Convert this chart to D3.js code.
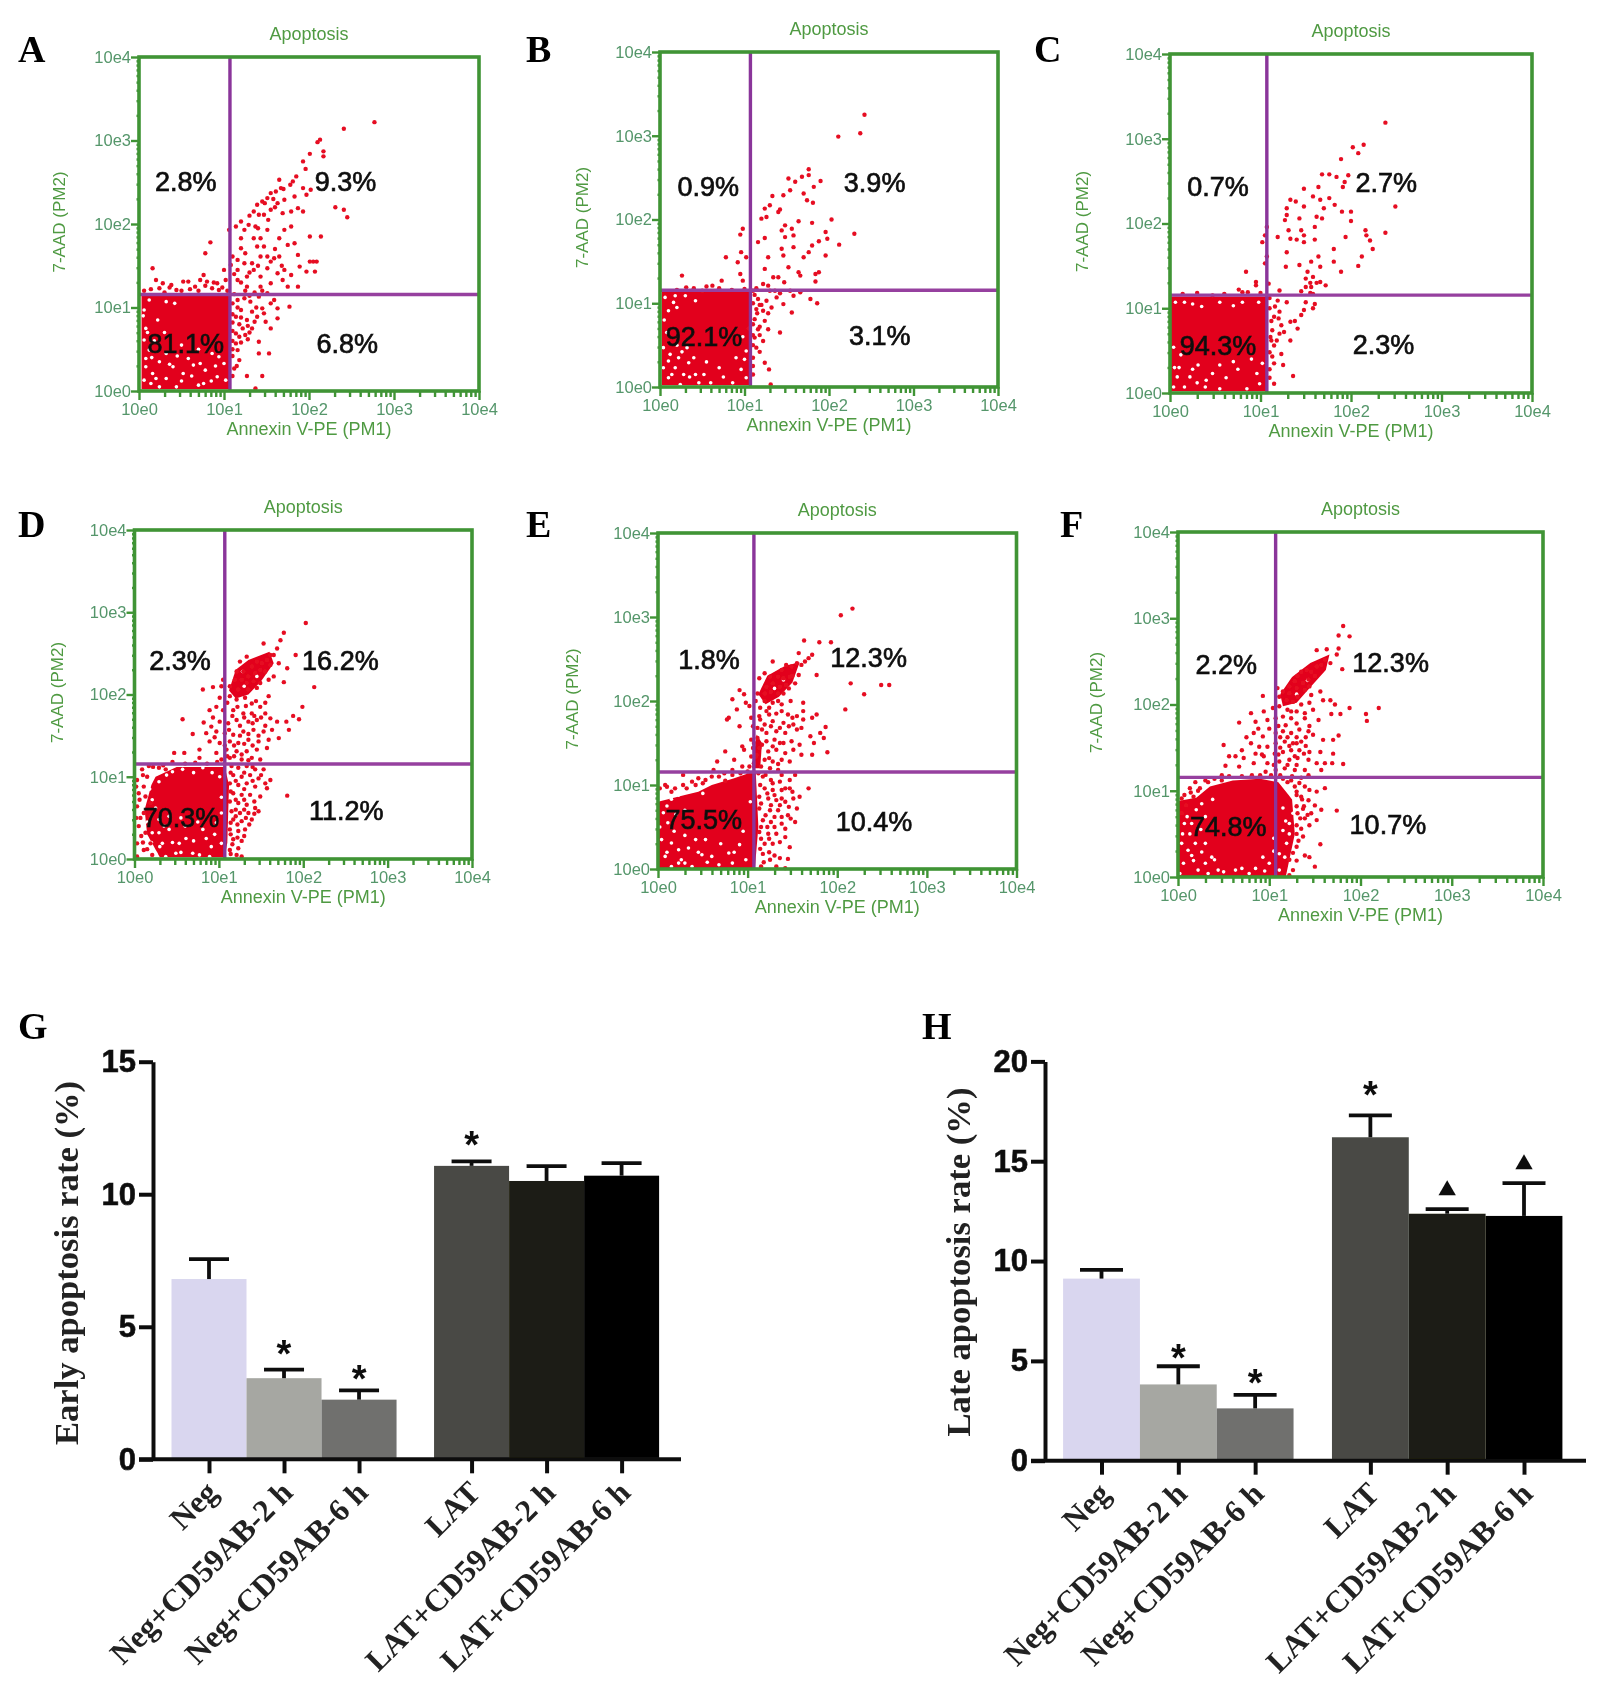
<!DOCTYPE html>
<html>
<head>
<meta charset="utf-8">
<script src="https://cdn.jsdelivr.net/npm/d3@7"></script>
<style>
  body { margin: 0; background: #fff; }
  svg { display: block; }
</style>
</head>
<body>
<div id="chart"></div>
<script>
// flow panels: events are [log10 Annexin V-PE, log10 7-AAD]
const eventsA = [[2.77,3.22],[2.41,3.14],[2.13,3.01],[2.1,2.98],[2.17,2.87],[2.17,2.81],[2.01,2.84],[1.93,2.75],[1.96,2.66],[1.85,2.57],[1.81,2.51],[1.78,2.47],[1.65,2.53],[1.93,2.43],[1.97,2.35],[2.02,2.41],[2.31,2.2],[2.41,2.17],[2.45,2.08],[2.01,1.85],[2.14,1.85],[1.67,2.43],[1.61,2.39],[1.55,2.37],[1.51,2.31],[1.45,2.27],[1.39,2.23],[1.35,2.15],[1.41,2.11],[1.47,2.11],[1.55,2.17],[1.63,2.25],[1.71,2.29],[1.83,2.33],[1.87,2.19],[1.93,2.15],[1.79,2.15],[1.69,2.13],[1.06,1.93],[1.14,1.97],[1.2,2.03],[1.24,1.93],[1.2,1.83],[1.29,1.99],[1.37,1.97],[1.35,1.83],[1.43,1.83],[1.51,1.93],[1.39,1.73],[1.47,1.73],[1.2,1.71],[1.65,1.83],[1.71,1.93],[1.79,1.97],[1.75,1.75],[1.83,1.77],[1.65,1.61],[1.87,1.63],[1.59,1.59],[1.51,1.61],[1.43,1.61],[1.33,1.53],[1.24,1.53],[1.16,1.57],[1.1,1.61],[1.08,1.51],[1.16,1.45],[1.27,1.37],[1.35,1.45],[1.43,1.37],[1.51,1.47],[1.63,1.41],[1.71,1.45],[1.79,1.39],[1.69,1.33],[1.55,1.29],[1.43,1.25],[1.27,1.25],[1.16,1.33],[1.87,1.25],[1.89,1.49],[1.97,1.43],[2.05,1.55],[2.09,1.55],[2.01,1.55],[2.07,1.43],[0.84,1.78],[0.78,1.65],[0.16,1.47],[0.2,1.33],[0.28,1.29],[0.38,1.27],[0.52,1.31],[0.58,1.31],[0.76,1.39],[0.72,1.33],[0.8,1.31],[0.92,1.29],[1,1.45],[1.02,1.33],[0.66,1.25],[0.24,1.23],[0.44,1.21],[0.86,1.23],[0.94,1.21],[1.16,1.09],[1.24,1.11],[1.31,1.07],[1.41,1.13],[1.51,1.17],[1.59,1.09],[1.63,0.99],[1.77,1.01],[1.63,0.87],[1.45,0.99],[1.33,0.95],[1.2,0.97],[1.14,0.89],[1.27,0.85],[1.39,0.89],[1.49,0.83],[1.55,0.75],[1.33,0.75],[1.22,0.75],[1.14,0.69],[1.25,0.67],[1.14,0.57],[1.41,0.59],[1.41,0.45],[1.53,0.45],[1.18,0.37],[1.12,0.27],[1.27,0.18],[1.45,0.18],[1.37,0.03],[1.16,0.49]]
const eventsB = [[2.42,3.25],[2.11,2.99],[2.37,3.03],[1.76,2.6],[1.76,2.53],[1.68,2.51],[1.52,2.49],[1.6,2.45],[1.9,2.46],[1.82,2.39],[1.7,2.31],[1.54,2.35],[1.46,2.29],[1.33,2.28],[1.74,2.23],[1.81,2.2],[1.42,2.12],[1.4,2.09],[1.3,2.17],[1.24,2.13],[1.2,2.01],[1.26,2.03],[0.98,1.89],[0.95,1.82],[1.48,1.93],[1.56,1.89],[1.44,1.87],[1.64,1.98],[1.8,1.96],[2.03,2],[1.96,1.85],[1.98,1.77],[1.48,1.79],[1.58,1.81],[1.24,1.78],[1.16,1.73],[2.3,1.83],[2.12,1.7],[1.88,1.74],[1.8,1.69],[1.76,1.61],[1.7,1.55],[1.96,1.57],[1.58,1.67],[1.44,1.65],[1.46,1.57],[1.28,1.55],[0.78,1.55],[0.96,1.61],[1.02,1.55],[0.92,1.49],[0.95,1.35],[1.24,1.41],[1.52,1.43],[1.64,1.37],[1.66,1.33],[1.88,1.37],[1.84,1.35],[1.84,1.26],[1.34,1.31],[1.4,1.31],[1.47,1.25],[1.22,1.23],[1.28,1.21],[0.26,1.33],[0.73,1.27],[0.98,1.27],[0.62,1.21],[0.31,1.19],[0.5,1.15],[1.1,1.15],[1.36,1.15],[1.54,1.15],[1.66,1.13],[1.16,1.05],[1.26,1.03],[1.38,1.07],[1.46,0.99],[1.58,1.09],[1.78,1.05],[1.86,1],[1.56,0.89],[1.42,0.65],[1.14,0.93],[1.22,0.91],[1.12,0.81],[1.24,0.79],[1.28,0.69],[1.16,0.69],[1.12,0.59],[1.22,0.55],[1.14,0.47],[1.1,0.35],[1.24,0.29],[1.29,0.21],[1.31,0.03]]
const eventsC = [[2.38,3.19],[2.02,2.9],[2.14,2.93],[2.08,2.83],[1.89,2.76],[1.68,2.58],[1.76,2.58],[1.84,2.55],[1.97,2.57],[1.91,2.43],[1.93,2.49],[1.48,2.41],[1.58,2.32],[1.64,2.43],[1.66,2.28],[1.76,2.3],[1.82,2.22],[1.33,2.28],[1.39,2.26],[1.48,2.2],[1.7,2.18],[1.9,2.14],[2,2.14],[2,2.03],[2.49,2.2],[1.29,2.18],[1.27,2.04],[1.29,2.1],[1.43,2.06],[1.62,2.08],[1.68,2.06],[1.6,1.96],[1.45,1.92],[1.48,1.86],[1.31,1.92],[1.33,1.82],[1.19,1.84],[1.4,1.81],[1.48,1.78],[1.6,1.81],[1.94,1.84],[2.16,1.92],[2.17,1.86],[2.21,1.8],[2.24,1.7],[2.38,1.89],[1.05,1.86],[1.07,1.96],[1.02,1.78],[1.07,1.61],[1.05,1.53],[1.29,1.66],[1.81,1.7],[1.81,1.55],[2.12,1.61],[2.08,1.5],[1.64,1.61],[1.56,1.55],[1.43,1.51],[1.28,1.49],[1.66,1.49],[1.89,1.43],[1.52,1.43],[0.84,1.43],[1.5,1.35],[1.58,1.37],[1.66,1.31],[1.72,1.27],[1.56,1.25],[0.95,1.31],[0.95,1.27],[0.76,1.22],[0.86,1.19],[1.21,1.21],[1.58,1.17],[0.14,1.17],[0.47,1.15],[1.09,1.29],[1.29,1.07],[1.19,1.09],[1.5,1.07],[1.6,1.05],[1.48,0.98],[1.58,1],[1.21,0.96],[1.15,0.9],[1.33,0.84],[1.45,0.92],[1.23,0.8],[1.41,0.76],[1.13,0.74],[1.21,0.7],[1.33,0.62],[1.15,0.56],[1.23,0.46],[1.13,0.43],[1.15,0.35],[1.25,0.33],[1.36,0.2],[1.15,0.11],[1.11,0.66]]
const eventsD = [[2.03,2.87],[1.77,2.75],[1.73,2.66],[1.53,2.62],[1.69,2.56],[1.91,2.48],[2.13,2.09],[1.77,2.15],[1.81,2.32],[1.71,2.38],[1.99,1.85],[1.95,1.7],[1.88,1.74],[1.8,1.67],[1.83,1.57],[1.69,1.67],[0.57,1.7],[0.69,1.52],[0.47,1.29],[0.59,1.29],[0.81,2.06],[0.93,2.09],[1.61,2.48],[1.57,2.42],[1.51,2.38],[1.45,2.4],[1.39,2.34],[1.33,2.46],[1.25,2.4],[1.21,2.28],[1.29,2.28],[1.35,2.22],[1.43,2.26],[1.49,2.3],[1.55,2.28],[1.61,2.36],[1.65,2.48],[1.27,2.18],[1.19,2.18],[1.33,2.14],[1.41,2.16],[1.49,2.14],[1.59,2.18],[1.65,2.22],[1.13,2.1],[1.23,2.06],[1.35,2.06],[1.45,2.08],[1.59,1.98],[1.05,2.18],[1.03,2.1],[1.13,1.98],[1.21,1.94],[1.31,1.96],[1.39,1.89],[1.49,1.85],[1.01,1.96],[0.97,1.85],[0.89,1.81],[1.05,1.81],[1.17,1.81],[1.29,1.77],[1.39,1.77],[1.55,1.77],[1.61,1.71],[1.45,1.69],[1.35,1.67],[1.21,1.69],[1.11,1.65],[1.01,1.67],[0.91,1.61],[0.85,1.53],[0.97,1.55],[1.07,1.53],[1.17,1.51],[1.29,1.55],[1.41,1.57],[1.53,1.55],[1.63,1.57],[1.71,1.47],[1.59,1.45],[1.47,1.43],[1.35,1.45],[1.23,1.41],[1.13,1.43],[0.89,1.43],[1.01,1.41],[0.77,1.33],[0.97,1.29],[1.09,1.33],[1.21,1.31],[1.33,1.31],[1.45,1.33],[1.57,1.35],[1.39,1.23],[1.27,1.21],[1.13,1.23],[1.03,1.21],[0.77,1.23],[1.49,1.21],[1.15,1.13],[1.23,1.11],[1.33,1.13],[1.43,1.09],[1.53,1.09],[1.17,1.02],[1.27,1],[1.37,1.02],[1.47,0.98],[1.61,0.96],[1.57,0.86],[1.13,0.92],[1.23,0.9],[1.33,0.92],[1.43,0.88],[1.17,0.8],[1.27,0.78],[1.37,0.78],[1.49,0.76],[1.13,0.7],[1.23,0.68],[1.33,0.66],[1.43,0.62],[1.47,0.58],[1.15,0.58],[1.25,0.56],[1.35,0.56],[1.17,0.48],[1.27,0.46],[1.39,0.48],[1.13,0.36],[1.23,0.34],[1.31,0.36],[1.17,0.24],[1.27,0.22],[1.13,0.11],[1.21,0.05],[1.27,0.03],[1.81,0.77],[0.03,0.96],[0.09,1.09],[0.17,1.13],[0.29,1.11],[0.37,1.09],[0.05,0.8],[0.11,0.88],[0.03,0.64],[0.11,0.56],[0.19,0.52],[0.05,0.4],[0.13,0.32],[0.03,0.19],[0.11,0.11],[0.19,0.19],[0.03,0.03],[0.21,0.05],[0.13,0.76],[0.19,0.68],[0.15,1],[0.07,0.5],[0.17,0.42]]
const eventsE = [[2.17,3.1],[2.04,3.02],[1.63,2.72],[1.8,2.7],[1.93,2.7],[2.15,2.21],[2.49,2.19],[2.58,2.19],[2.3,2.08],[2.09,1.9],[1.77,2.31],[1.72,2.55],[1.68,2.51],[1.64,2.47],[1.57,2.57],[1.6,2.43],[1.55,2.45],[1.49,2.41],[1.43,2.43],[1.38,2.37],[1.28,2.47],[1.57,2.31],[1.47,2.29],[1.4,2.27],[1.34,2.29],[1.25,2.29],[1.19,2.33],[1.13,2.27],[1.28,2.21],[1.21,2.17],[1.36,2.17],[1.43,2.19],[1.53,2.21],[1.26,2.11],[1.19,2.09],[1.34,2.09],[1.11,2.09],[1.4,2.09],[1.09,2],[1.19,2],[1.28,1.98],[1.38,1.96],[1.62,1.98],[1.62,1.88],[1.77,1.84],[1.72,1.8],[1.55,1.82],[1.45,1.84],[1.32,1.85],[1.21,1.88],[1.13,1.82],[1.87,1.69],[1.81,1.62],[1.85,1.56],[1.7,1.58],[1.74,1.5],[1.89,1.39],[1.72,1.36],[1.62,1.78],[1.51,1.72],[1.4,1.74],[1.28,1.76],[1.19,1.72],[1.11,1.68],[1.21,1.62],[1.32,1.64],[1.42,1.62],[1.55,1.66],[1.6,1.68],[1.11,1.56],[1.21,1.52],[1.3,1.54],[1.4,1.5],[1.49,1.52],[1.58,1.48],[1.13,1.44],[1.23,1.4],[1.32,1.42],[1.42,1.38],[1.51,1.42],[1.6,1.36],[1.09,1.34],[1.19,1.3],[1.28,1.28],[1.38,1.3],[1.47,1.28],[1.07,1.26],[1.15,1.22],[1.25,1.2],[1.34,1.18],[0.91,2.13],[0.96,2.08],[0.83,2.02],[0.98,1.98],[0.88,1.9],[1.02,1.94],[0.79,1.8],[0.77,1.78],[0.91,1.7],[1.04,1.8],[1.06,1.7],[0.94,1.46],[0.96,1.42],[0.75,1.4],[0.85,1.3],[0.66,1.28],[0.83,1.18],[0.94,1.22],[0.62,1.18],[1.02,1.22],[0.74,1.14],[0.28,1.12],[1.04,1.54],[1.06,1.44],[1.04,1.34],[1.38,1.12],[1.53,1.12],[1.47,1.06],[1.17,1.1],[1.26,1.06],[1.36,1.04],[1.68,0.96],[1.19,0.96],[1.28,0.94],[1.38,0.94],[1.47,0.96],[1.58,0.86],[1.51,0.84],[1.13,0.86],[1.23,0.84],[1.32,0.82],[1.42,0.8],[1.55,0.72],[1.13,0.72],[1.25,0.7],[1.34,0.7],[1.45,0.64],[1.53,0.56],[1.17,0.58],[1.26,0.56],[1.38,0.54],[1.13,0.44],[1.23,0.42],[1.32,0.42],[1.42,0.38],[1.19,0.3],[1.28,0.3],[1.47,0.26],[1.17,0.18],[1.36,0.13],[1.15,0.03],[1.32,0.03],[1.42,0.01],[1.25,0.11],[0.45,1.08],[0.53,1.06],[0.38,1.04],[0.6,1.1],[0.83,1.12],[0.02,0.96],[0.08,1],[0.19,0.96],[0.28,1]]
const eventsF = [[1.81,2.91],[1.76,2.8],[1.88,2.79],[1.76,2.65],[1.74,2.58],[1.63,2.64],[1.52,2.63],[1.8,2.41],[2.2,1.96],[2.06,1.89],[2.07,1.81],[1.88,1.96],[1.78,1.89],[1.68,1.89],[1.72,2],[1.67,2.05],[1.59,2.05],[1.76,1.64],[1.59,1.59],[1.7,1.59],[1.7,1.43],[1.81,1.31],[1.54,1.82],[1.46,2.11],[1.56,2.15],[1.67,2.48],[1.61,2.52],[1.57,2.46],[1.52,2.44],[1.46,2.38],[1.41,2.4],[1.5,2.33],[1.43,2.29],[1.35,2.38],[1.31,2.33],[1.37,2.25],[1.28,2.27],[1.22,2.21],[1.3,2.19],[1.39,2.17],[1.09,2.19],[1.15,2.15],[1.22,2.13],[1.31,2.09],[1.44,2.21],[1.11,2.09],[1.19,2.05],[1.26,2.03],[1.35,2],[1.44,2.02],[1.11,1.98],[1.2,1.94],[1.3,1.92],[1.39,1.9],[1.48,1.94],[1.15,1.86],[1.24,1.84],[1.39,1.84],[0.93,2.1],[1.04,1.96],[0.94,1.92],[0.8,1.9],[0.67,1.79],[0.85,1.8],[0.98,1.82],[1.07,1.84],[0.83,1.67],[0.93,1.63],[1,1.72],[1.07,1.67],[1.15,1.69],[1.24,1.67],[1.33,1.71],[1.43,1.69],[1.48,1.65],[0.5,1.53],[0.7,1.47],[0.8,1.55],[0.89,1.51],[0.98,1.51],[1.07,1.55],[1.17,1.57],[1.26,1.55],[1.35,1.57],[0.56,1.4],[0.63,1.4],[0.72,1.38],[0.85,1.43],[0.94,1.4],[1.06,1.43],[1.15,1.45],[1.24,1.47],[1.33,1.47],[1.44,1.45],[1.56,1.45],[0.52,1.29],[0.67,1.28],[0.83,1.32],[0.98,1.32],[1.11,1.34],[1.22,1.36],[1.31,1.38],[1.43,1.36],[1.52,1.32],[1.61,1.32],[1.69,1.32],[1.07,1.24],[1.17,1.26],[1.28,1.24],[1.39,1.24],[1.57,1.24],[0.96,1.22],[0.48,1.18],[0.81,1.18],[1.43,1.18],[1.15,1.14],[1.24,1.12],[1.33,1.09],[1.39,1.05],[1.44,1.01],[1.61,1.03],[1.52,0.99],[1.3,0.99],[1.35,0.93],[1.43,0.89],[1.5,0.83],[1.57,0.78],[1.74,0.77],[1.46,0.74],[1.37,0.79],[1.31,0.74],[1.39,0.68],[1.52,0.66],[1.44,0.6],[1.35,0.56],[1.3,0.5],[1.37,0.47],[1.56,0.38],[1.3,0.35],[1.39,0.25],[1.44,0.23],[1.5,0.12],[1.3,0.19],[1.26,0.08],[1.22,0.02],[0.19,1.1],[0.13,1.03],[0.04,0.91],[0.17,0.93],[0.09,0.83],[0.04,0.74],[0.24,1.03],[0.33,1.1],[0.48,1.12]]

// events along the rim of the dense population and the busier parts of the cloud
const rimA = [[0.06,1.2],[0.14,1.22],[0.3,1.18],[0.36,1.24],[0.5,1.2],[0.6,1.22],[0.7,1.2],[0.78,1.26],[0.88,1.3],[0.98,1.24],[1.04,1.2],[1.12,1.16],[1.1,1.05],[1.16,1],[1.1,0.92],[1.2,0.88],[1.1,0.82],[1.18,0.8],[1.28,0.78],[1.1,0.72],[1.18,0.65],[1.1,0.6],[1.2,0.58],[1.3,0.7],[1.1,0.5],[1.1,0.42],[1.15,0.3],[1.1,0.18],[1.38,1],[1.3,1.14],[1.25,1.2],[1.36,1.18],[1.45,1.2],[1.2,1.3],[1.12,1.4],[1.3,1.42],[1.4,1.5],[1.25,1.65],[1.55,1.55],[1.6,1.7],[1.4,1.95],[1.3,2.1],[1.48,2.25],[1.58,2.3],[1.7,2.42],[1.6,2.2],[1.52,2.05],[1.68,1.5],[1.75,1.25],[1.55,1.05],[1.47,0.93],[1.36,0.83],[1.28,0.62]]
const rimB = [[0.2,1.16],[0.4,1.18],[0.55,1.2],[0.7,1.18],[0.85,1.16],[1,1.17],[1.12,1.1],[1.1,1],[1.15,0.88],[1.1,0.75],[1.18,0.72],[1.1,0.62],[1.18,0.62],[1.1,0.5],[1.1,0.25],[1.1,0.15],[1.18,0.42],[1.28,0.88],[1.32,0.95],[1.2,0.98],[1.3,1.15],[1.42,1.12],[1.18,0.98],[1.14,1.18],[1.05,0.7]]
const rimC = [[0.3,1.18],[0.6,1.17],[0.8,1.19],[1,1.18],[1.1,1.12],[1.1,1],[1.16,1.02],[1.12,0.85],[1.2,0.88],[1.12,0.62],[1.1,0.48],[1.1,0.28],[1.1,0.18],[1.18,0.62],[1.26,0.72],[1.38,0.85],[1.55,1.18],[1.45,1.2],[1.62,1.3],[1.55,1.3],[1.5,1.25]]
const rimD = [[0.1,1.02],[0.22,1.12],[0.34,1.14],[0.45,1.18],[0.6,1.16],[0.72,1.17],[0.86,1.16],[0.98,1.18],[0.02,0.88],[0.06,0.72],[0.02,0.5],[0.1,0.2],[0.15,0.12],[0.08,0.28],[1.14,1.05],[1.2,0.95],[1.3,1.05],[1.4,1.12],[1.5,1.02],[1.55,0.92],[1.4,0.95],[1.3,0.85],[1.2,0.72],[1.3,0.72],[1.42,0.7],[1.14,0.82],[1.2,0.6],[1.3,0.6],[1.2,0.52],[1.32,0.5],[1.42,0.55],[1.14,0.44],[1.22,0.42],[1.36,0.42],[1.14,0.3],[1.22,0.26],[1.3,0.28],[1.16,0.18],[1.23,0.13],[1.14,0.06],[1.1,1.25],[1.18,1.25],[1.27,1.27],[1.35,1.2],[1.4,1.38],[1.3,1.4],[1.18,1.38],[1.07,1.38],[1.25,1.5],[1.35,1.52],[1.47,1.5],[1.12,1.57],[1.25,1.62],[1.4,1.65],[1.55,1.62],[1.16,1.74],[1.3,1.72],[1.42,1.74],[1.5,1.72],[1.1,1.9],[1.22,1.85],[1.32,1.86],[1.44,1.92],[1.55,1.9],[0.93,1.72],[0.82,1.66],[0.95,1.48]]
const rimE = [[0.1,0.98],[0.15,0.92],[0.32,0.96],[0.42,1],[0.5,1.02],[0.68,1.1],[0.75,1.05],[0.92,1.14],[1,1.16],[1.12,1.14],[1.2,1.12],[1.28,1.02],[1.14,1],[1.22,0.9],[1.3,0.88],[1.42,0.96],[1.5,0.92],[1.38,0.84],[1.15,0.78],[1.26,0.76],[1.36,0.76],[1.46,0.74],[1.2,0.64],[1.3,0.62],[1.38,0.62],[1.48,0.6],[1.15,0.5],[1.22,0.5],[1.3,0.5],[1.42,0.48],[1.15,0.36],[1.24,0.36],[1.36,0.32],[1.14,0.24],[1.24,0.2],[1.3,0.16],[1.45,0.12],[1.18,0.08],[1.07,1.5],[1.16,1.48],[1.28,1.46],[1.36,1.5],[1.1,1.36],[1.24,1.32],[1.34,1.25],[1.16,1.66],[1.26,1.7],[1.36,1.68],[1.46,1.7],[1.14,1.78],[1.24,1.84],[1.38,1.88],[1.5,1.8],[1.14,1.92],[1.24,1.92],[1.34,2],[1.48,2],[1.46,2.15],[1.5,2.3]]
const rimF = [[0.07,0.95],[0.14,0.98],[0.22,1],[0.3,1.12],[0.4,1.14],[0.56,1.17],[0.7,1.17],[0.9,1.18],[1.02,1.18],[1.12,1.18],[1.2,1.1],[1.28,1.05],[1.3,0.95],[1.36,0.9],[1.3,0.82],[1.34,0.68],[1.3,0.6],[1.32,0.42],[1.26,0.28],[1.22,0.2],[1.38,0.82],[1.42,0.72],[1.25,1.17],[1.35,1.15],[1.05,1.3],[1.2,1.3],[1.3,1.3],[1.1,1.42],[1.28,1.4],[1.38,1.43],[1.12,1.5],[1.22,1.52],[1.3,1.55],[1.4,1.52],[1.12,1.62],[1.2,1.62],[1.3,1.62],[1.4,1.62],[1.18,1.76],[1.3,1.78],[1.44,1.75],[1.1,1.75],[1.24,1.92],[0.88,1.72],[0.75,1.62],[0.92,1.42]]

// saturated patches of each population (too dense to read single events) and the gaps seen inside them
const coreA = [[[0.03,1.16],[1.07,1.16],[1.07,0.02],[0.03,0.02]]]
const coreB = [[[0.02,1.14],[1.07,1.14],[1.07,0.02],[0.02,0.02]]]
const coreC = [[[0,1.14],[1.07,1.14],[1.07,0.02],[0,0.02]]]
const coreD = [[[0.25,1],[0.5,1.12],[1.07,1.12],[1.12,0.9],[1.1,0.2],[1.07,0.02],[0.3,0.02],[0.15,0.3],[0.12,0.6],[0.2,0.9]],
    [[1.12,2.05],[1.2,2.3],[1.35,2.42],[1.6,2.52],[1.65,2.38],[1.5,2.16],[1.35,2],[1.2,1.95]]]
const coreE = [[[0,0.8],[0.3,0.88],[0.45,0.92],[0.6,1],[0.85,1.08],[1.09,1.17],[1.12,0.5],[1.08,0],[0,0]],
    [[1.12,2.08],[1.22,2.3],[1.42,2.42],[1.58,2.46],[1.5,2.22],[1.35,2.05],[1.2,1.96]],
    [[1.05,1.2],[1.1,1.6],[1.16,1.5],[1.14,1.2]]]
const coreF = [[[0,0.88],[0.2,0.92],[0.35,1.05],[0.6,1.12],[0.9,1.14],[1.1,1.1],[1.25,0.9],[1.28,0.5],[1.2,0.1],[1.18,0],[0,0]],
    [[1.12,2.12],[1.25,2.32],[1.45,2.48],[1.66,2.58],[1.62,2.4],[1.45,2.2],[1.3,2.02],[1.15,1.98]]]
const gapsA = [[0.06,0.97],[0.12,1.09],[0.08,0.75],[0.06,0.61],[0.32,1.07],[0.42,1.05],[0.22,0.85],[0.24,0.35],[0.08,0.29],[0.06,0.13],[0.14,0.09],[0.32,0.45],[0.4,0.29],[0.52,0.21],[0.64,0.31],[0.78,0.25],[0.92,0.17],[1,0.33],[0.86,0.45],[0.76,0.09],[0.44,0.05],[0.24,0.05],[0.58,0.39],[0.16,0.21],[0.12,0.49],[0.7,0.07],[1.02,0.13],[0.32,0.15],[0.94,0.41],[0.08,0.39],[0.18,0.6],[0.3,0.7],[0.5,0.55],[0.7,0.5],[0.2,0.15],[0.5,0.12],[0.62,0.18],[0.85,0.12],[0.15,0.4],[0.36,0.32],[0.72,0.33],[0.9,0.3],[0.45,0.42],[0.05,0.9],[0.1,0.7]]
const gapsB = [[0.06,1.07],[0.18,1.09],[0.3,1.09],[0.42,1.03],[0.1,0.91],[0.04,0.47],[0.1,0.31],[0.18,0.23],[0.28,0.15],[0.34,0.29],[0.22,0.35],[0.4,0.35],[0.1,0.11],[0.42,0.15],[0.46,0.05],[0.7,0.23],[0.86,0.05],[0.96,0.21],[1,0.33],[1.02,0.43],[0.04,0.23],[0.16,1.01],[0.12,0.39],[0.24,0.03],[0.32,0.47],[1.02,0.11],[0.2,0.5],[0.08,0.65],[0.14,0.15],[0.35,0.12],[0.55,0.3],[0.52,0.15],[0.75,0.12],[0.9,0.35],[0.6,0.05],[0.26,0.42],[0.05,0.8],[0.2,0.95],[0.98,0.6]]
const gapsC = [[0.06,1.07],[0.16,1.07],[0.35,1.02],[0.55,1.07],[0.8,1.07],[0.98,1.07],[0.04,0.54],[0.08,0.19],[0.16,0.07],[0.04,0.07],[0.31,0.33],[0.47,0.23],[0.55,0.33],[0.7,0.37],[0.55,0.05],[0.96,0.23],[1.02,0.35],[0.99,0.11],[0.22,0.19],[0.39,0.07],[0.1,0.3],[0.25,0.28],[0.12,0.45],[0.4,0.15],[0.62,0.18],[0.85,0.05],[0.75,0.28],[0.9,0.4],[0.3,0.12],[0.05,0.3],[0.25,1.05],[0.7,1.03]]
const gapsD = [[0.27,1.04],[0.45,1.06],[0.29,0.48],[0.41,0.36],[0.33,0.19],[0.49,0.07],[0.25,0.07],[0.61,0.25],[0.81,0.36],[0.97,0.44],[1.03,0.19],[0.77,0.05],[0.21,0.32],[0.37,0.03],[0.53,0.19],[0.91,0.15],[1.03,0.56],[0.41,0.52],[0.29,0.32],[0.69,0.07],[0.89,0.03],[0.29,0.94],[0.21,0.72],[0.57,1.09],[0.81,1.11],[1.01,1],[0.2,0.2],[0.15,0.45],[0.45,0.2],[0.6,0.4],[0.7,0.22],[0.85,0.25],[0.95,0.3],[0.35,0.4],[0.55,0.08],[0.25,0.62],[0.18,0.85],[0.38,1.02],[0.7,1.05],[0.92,1.05],[1.03,0.75],[0.55,0.5],[0.75,0.45],[0.3,0.15],[1.3,2.1],[1.45,2.22],[1.28,2.28]]
const gapsE = [[0.06,0.87],[0.15,0.83],[0.23,0.88],[0.06,0.67],[0.11,0.55],[0.04,0.35],[0.15,0.31],[0.23,0.23],[0.08,0.15],[0.26,0.11],[0.42,0.35],[0.53,0.35],[0.34,0.25],[0.6,0.15],[0.79,0.19],[0.91,0.29],[0.98,0.11],[0.15,0.03],[0.38,0.03],[0.23,0.07],[0.49,0.17],[0.83,0.07],[0.1,0.75],[0.2,0.65],[0.3,0.7],[0.1,0.2],[0.3,0.4],[0.18,0.45],[0.45,0.2],[0.7,0.3],[0.85,0.2],[0.55,0.08],[0.68,0.05],[0.95,0.45],[0.3,0.07],[0.02,0.5],[1.03,0.8],[0.5,0.9],[1.3,2.15],[1.4,2.25]]
const gapsF = [[0.04,0.39],[0.11,0.31],[0.06,0.16],[0.17,0.19],[0.26,0.29],[0.19,0.39],[0.13,0.5],[0.3,0.16],[0.22,0.08],[0.44,0.08],[0.78,0.04],[0.93,0.23],[1,0.16],[1.11,0.27],[1.19,0.39],[1.22,0.5],[1.15,0.54],[1.24,0.16],[1.11,0.08],[0.63,0.08],[0.07,0.62],[0.02,0.04],[0.33,0.04],[0.2,0.78],[0.26,0.85],[1.26,0.74],[1.22,0.62],[1.17,0.23],[0.3,0.39],[0.37,0.23],[0.1,0.7],[0.05,0.5],[0.15,0.62],[0.25,0.55],[0.3,0.7],[0.38,0.9],[0.15,0.25],[0.4,0.2],[0.5,0.06],[0.7,0.1],[0.85,0.1],[1.05,0.45],[1.15,0.8],[1.18,0.65],[1.05,0.3],[0.95,0.07],[1.3,2.12],[1.42,2.28]]

const panelLetters = ["A", "B", "C", "D", "E", "F"]
const panelEvents = [eventsA.concat(rimA), eventsB.concat(rimB), eventsC.concat(rimC), eventsD.concat(rimD), eventsE.concat(rimE), eventsF.concat(rimF)]
const panelCores = [coreA, coreB, coreC, coreD, coreE, coreF]
const panelGaps = [gapsA, gapsB, gapsC, gapsD, gapsE, gapsF]
const panelRates = [
    ["2.8%", "9.3%", "81.1%", "6.8%"],
    ["0.9%", "3.9%", "92.1%", "3.1%"],
    ["0.7%", "2.7%", "94.3%", "2.3%"],
    ["2.3%", "16.2%", "70.3%", "11.2%"],
    ["1.8%", "12.3%", "75.5%", "10.4%"],
    ["2.2%", "12.3%", "74.8%", "10.7%"]
]
const gateX = 11.75
const gateY = 14.3
const decadeTicks = [1, 10, 100, 1000, 10000]

// bar charts
const groupNames = ["Neg", "Neg+CD59AB-2 h", "Neg+CD59AB-6 h", "LAT", "LAT+CD59AB-2 h", "LAT+CD59AB-6 h"]
const barColors = ["#d9d6ef", "#a6a7a2", "#6f706e", "#484a44", "#1f1f12", "#000000"]
const earlyMeans = [6.8, 3.06, 2.25, 11.07, 10.5, 10.7]
const earlyTops = [7.55, 3.38, 2.6, 11.24, 11.06, 11.17]
const earlyMarks = ["", "*", "*", "*", "", ""]
const lateMeans = [9.12, 3.82, 2.62, 16.2, 12.37, 12.26]
const lateTops = [9.56, 4.73, 3.3, 17.3, 12.6, 13.9]
const lateMarks = ["", "*", "*", "*", "tri", "tri"]

const green = "#3f9435"
const svg = d3.select("#chart").append("svg").attr("width", 1607).attr("height", 1688)

const defs = svg.append("defs")
defs.append("filter").attr("id", "soft")
    .attr("x", "-5%").attr("y", "-5%").attr("width", "110%").attr("height", "110%")
    .append("feGaussianBlur").attr("stdDeviation", 0.7)

const root = svg.append("g").attr("filter", "url(#soft)")

// [left, right, top, bottom] of each flow plot
const frames = [
    [139, 479, 57, 391],
    [660, 998, 52, 387],
    [1170, 1532, 54, 393],
    [134.5, 472, 530, 859],
    [658, 1016.5, 533, 869],
    [1178, 1543, 532, 877]
]
const letterSpots = [[18, 62], [526, 62], [1034, 62], [18, 537], [526, 537], [1060, 537]]
const yLabelGaps = [74, 72, 82, 72, 80, 76]
// where the four quadrant figures sit, as [log x, log y]
const rateSpots = [
    [[0.55, 2.51], [2.43, 2.51], [0.55, 0.57], [2.45, 0.57]],
    [[0.57, 2.4], [2.54, 2.45], [0.52, 0.61], [2.6, 0.62]],
    [[0.53, 2.44], [2.39, 2.49], [0.53, 0.57], [2.36, 0.58]],
    [[0.54, 2.42], [2.44, 2.42], [0.55, 0.51], [2.51, 0.6]],
    [[0.57, 2.5], [2.35, 2.52], [0.51, 0.6], [2.41, 0.57]],
    [[0.53, 2.47], [2.33, 2.49], [0.55, 0.59], [2.3, 0.61]]
]

const minorTicks = function () {
    const out = []
    d3.range(0, 4).forEach(e => {
        d3.range(2, 10).forEach(m => out.push(m * Math.pow(10, e)))
    })
    return out
}

const drawFlowPanel = function (i) {
    const [left, right, top, bottom] = frames[i]
    const x = d3.scaleLog().domain([1, 10000]).range([left, right])
    const y = d3.scaleLog().domain([1, 10000]).range([bottom, top])
    const px = d => x(Math.pow(10, d[0]))
    const py = d => y(Math.pow(10, d[1]))
    const g = root.append("g").attr("class", "flow")

    const outline = d3.line().x(px).y(py).curve(d3.curveLinearClosed)
    g.append("g").selectAll("path")
        .data(panelCores[i])
        .enter().append("path")
        .attr("d", outline)
        .attr("fill", "#e2001a")

    g.append("g").selectAll("circle.gap")
        .data(panelGaps[i])
        .enter().append("circle")
        .attr("class", "gap")
        .attr("cx", px).attr("cy", py).attr("r", 1.8)
        .attr("fill", "#fff")

    g.append("g").selectAll("circle.event")
        .data(panelEvents[i])
        .enter().append("circle")
        .attr("class", "event")
        .attr("cx", px).attr("cy", py).attr("r", 2.2)
        .attr("fill", "#e60f22")

    // quadrant gates
    g.append("line").attr("x1", x(gateX)).attr("x2", x(gateX)).attr("y1", top).attr("y2", bottom)
        .attr("stroke", "#8a349a").attr("stroke-width", 3.4)
    g.append("line").attr("x1", left).attr("x2", right).attr("y1", y(gateY)).attr("y2", y(gateY))
        .attr("stroke", "#96409f").attr("stroke-width", 3.4)

    g.append("rect").attr("x", left).attr("y", top)
        .attr("width", right - left).attr("height", bottom - top)
        .attr("fill", "none").attr("stroke", green).attr("stroke-width", 3.6)

    const axisFont = sel => sel.selectAll("text")
        .attr("font-family", "Liberation Sans").attr("font-size", 16.5).attr("fill", "#54966a")
    const axisLines = sel => {
        sel.select(".domain").remove()
        sel.selectAll("line").attr("stroke", green).attr("stroke-width", 2.4)
    }

    g.append("g").attr("transform", `translate(0,${bottom})`)
        .call(d3.axisBottom(x).tickValues(minorTicks()).tickSize(6).tickFormat(""))
        .call(axisLines)
    g.append("g").attr("transform", `translate(0,${bottom})`)
        .call(d3.axisBottom(x).tickValues(decadeTicks).tickSize(9).tickPadding(3)
            .tickFormat(d => "10e" + Math.round(Math.log10(d))))
        .call(axisLines).call(axisFont)
    g.append("g").attr("transform", `translate(${left},0)`)
        .call(d3.axisLeft(y).tickValues(minorTicks()).tickSize(2.5).tickFormat(""))
        .call(axisLines)
    g.append("g").attr("transform", `translate(${left},0)`)
        .call(d3.axisLeft(y).tickValues(decadeTicks).tickSize(8).tickPadding(0)
            .tickFormat(d => "10e" + Math.round(Math.log10(d))))
        .call(axisLines).call(axisFont)

    const cx = (left + right) / 2
    g.append("text").text("Apoptosis").attr("x", cx).attr("y", top - 17)
        .attr("text-anchor", "middle").attr("font-family", "Liberation Sans")
        .attr("font-size", 18).attr("fill", "#4f9a42")
    g.append("text").text("Annexin V-PE (PM1)").attr("x", cx).attr("y", bottom + 44)
        .attr("text-anchor", "middle").attr("font-family", "Liberation Sans")
        .attr("font-size", 18).attr("fill", "#4f9a42")
    g.append("text").text("7-AAD (PM2)")
        .attr("transform", `translate(${left - yLabelGaps[i]},${(top + bottom) / 2 - 2}) rotate(-90)`)
        .attr("text-anchor", "middle").attr("font-family", "Liberation Sans")
        .attr("font-size", 17).attr("fill", "#4f9a42")

    g.selectAll("text.rate")
        .data(panelRates[i])
        .enter().append("text")
        .attr("class", "rate")
        .text(d => d)
        .attr("x", (d, j) => px(rateSpots[i][j]))
        .attr("y", (d, j) => py(rateSpots[i][j]) + 10)
        .attr("text-anchor", "middle").attr("font-family", "Liberation Sans")
        .attr("font-size", 27).attr("fill", "#111")
        .attr("stroke", "#111").attr("stroke-width", 0.7)

    root.append("text").text(panelLetters[i])
        .attr("x", letterSpots[i][0]).attr("y", letterSpots[i][1])
        .attr("font-family", "Liberation Serif").attr("font-weight", 700)
        .attr("font-size", 38).attr("fill", "#000")
}

d3.range(6).forEach(drawFlowPanel)

// slot of a group along the x axis: half a slot between Neg and LAT groups
const slot = i => i + (i > 2 ? 0.5 : 0)

const drawBars = function (opt) {
    const x = d3.scaleLinear().domain([0, 5.5]).range(opt.xRange)
    const y = d3.scaleLinear().domain([0, opt.yMax]).range([opt.y0, opt.yTop])
    const g = root.append("g").attr("class", "bars")
    const step = x(1) - x(0)

    g.selectAll("rect.bar")
        .data(opt.means)
        .enter().append("rect")
        .attr("class", "bar")
        .attr("x", (d, i) => x(slot(i)) - step * 0.5)
        .attr("width", step)
        .attr("y", d => y(d))
        .attr("height", d => y(0) - y(d))
        .attr("fill", (d, i) => barColors[i])

    // error bars: stem from mean to top, then cap
    g.selectAll("line.stem")
        .data(opt.tops)
        .enter().append("line")
        .attr("class", "stem")
        .attr("x1", (d, i) => x(slot(i))).attr("x2", (d, i) => x(slot(i)))
        .attr("y1", (d, i) => y(opt.means[i])).attr("y2", d => y(d))
        .attr("stroke", "#111").attr("stroke-width", 3.8)
    g.selectAll("line.cap")
        .data(opt.tops)
        .enter().append("line")
        .attr("class", "cap")
        .attr("x1", (d, i) => x(slot(i)) - opt.cap).attr("x2", (d, i) => x(slot(i)) + opt.cap)
        .attr("y1", d => y(d)).attr("y2", d => y(d))
        .attr("stroke", "#111").attr("stroke-width", 3.8)

    const yAxis = g.append("g").attr("transform", `translate(${opt.xAxis},0)`)
        .call(d3.axisLeft(y).tickValues(opt.yTicks).tickSize(14).tickSizeOuter(0).tickPadding(3))
    yAxis.selectAll("text")
        .attr("font-family", "Liberation Sans").attr("font-weight", 700)
        .attr("font-size", 31).attr("fill", "#111")
        .attr("stroke", "#111").attr("stroke-width", 0.6)

    g.append("line").attr("x1", opt.xAxis - 14).attr("x2", opt.xEnd).attr("y1", opt.y0).attr("y2", opt.y0)
        .attr("stroke", "#111").attr("stroke-width", 4)

    const xAxis = g.append("g").attr("transform", `translate(0,${opt.y0})`)
        .call(d3.axisBottom(x).tickValues(groupNames.map((d, i) => slot(i))).tickSize(14)
            .tickFormat((d, i) => groupNames[i]))
    xAxis.select(".domain").remove()
    xAxis.selectAll("text")
        .attr("font-family", "Liberation Serif").attr("font-weight", 700)
        .attr("font-size", 31.5).attr("fill", "#222")
        .attr("text-anchor", "end").attr("dy", 0).attr("y", 0)
        .attr("transform", "translate(10,35) rotate(-45)")

    g.selectAll("line").filter(function () { return this.parentNode.classList.contains("tick") })
        .attr("stroke", "#111").attr("stroke-width", 4)
    yAxis.select(".domain").attr("stroke", "#111").attr("stroke-width", 4)

    // significance marks above the caps
    const marks = opt.marks.map((m, i) => ({ m, i })).filter(d => d.m)
    g.selectAll("text.star")
        .data(marks.filter(d => d.m === "*"))
        .enter().append("text")
        .attr("class", "star")
        .text("*")
        .attr("x", d => x(slot(d.i)))
        .attr("y", d => y(opt.tops[d.i]) - opt.starGaps[d.i] + 18)
        .attr("text-anchor", "middle").attr("font-family", "Liberation Sans")
        .attr("font-weight", 700).attr("font-size", 38).attr("fill", "#111")
    g.selectAll("path.tri")
        .data(marks.filter(d => d.m === "tri"))
        .enter().append("path")
        .attr("class", "tri")
        .attr("d", d3.symbol(d3.symbolTriangle, 130))
        .attr("transform", d => `translate(${x(slot(d.i))},${y(opt.tops[d.i]) - 19})`)
        .attr("fill", "#111")

    g.append("text").text(opt.title)
        .attr("transform", `translate(${opt.titleX},${opt.titleY}) rotate(-90)`)
        .attr("text-anchor", "middle").attr("font-family", "Liberation Serif")
        .attr("font-weight", 700).attr("font-size", 33)
        .attr("textLength", opt.titleLen).attr("lengthAdjust", "spacingAndGlyphs")
        .attr("fill", "#222")

    root.append("text").text(opt.letter)
        .attr("x", opt.letterX).attr("y", 1039)
        .attr("font-family", "Liberation Serif").attr("font-weight", 700)
        .attr("font-size", 38).attr("fill", "#000")
}

drawBars({
    letter: "G", letterX: 18,
    means: earlyMeans, tops: earlyTops, marks: earlyMarks,
    xRange: [209, 621.6], yMax: 15, y0: 1459.3, yTop: 1061.7, yTicks: [0, 5, 10, 15],
    xAxis: 153, xEnd: 681, cap: 20, starGaps: [0, 21, 16, 21, 0, 0],
    title: "Early apoptosis rate (%)", titleX: 78, titleY: 1263, titleLen: 364
})
drawBars({
    letter: "H", letterX: 922,
    means: lateMeans, tops: lateTops, marks: lateMarks,
    xRange: [1101.5, 1524], yMax: 20, y0: 1460.7, yTop: 1061.4, yTicks: [0, 5, 10, 15, 20],
    xAxis: 1045, xEnd: 1586, cap: 21.5, starGaps: [0, 13, 17, 25, 0, 0],
    title: "Late apoptosis rate (%)", titleX: 970, titleY: 1262, titleLen: 349
})
</script>
</body>
</html>
